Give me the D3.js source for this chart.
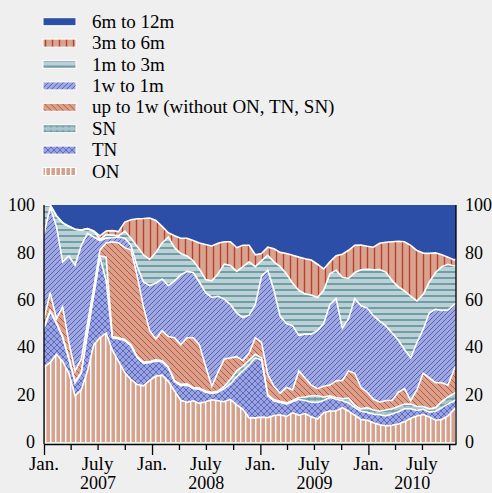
<!DOCTYPE html>
<html>
<head>
<meta charset="utf-8">
<script src="https://cdn.jsdelivr.net/npm/d3@7"></script>
<style>
  html, body { margin: 0; padding: 0; background: #efefef; }
  svg { display: block; font-family: "Liberation Serif", "Times New Roman", serif; }
</style>
</head>
<body>
<svg id="chart" width="492" height="493"></svg>
<script>
// sample dates (every three weeks)
const dates = [
  "2007-01-01", "2007-01-22", "2007-02-12", "2007-03-05", "2007-03-26", "2007-04-16", "2007-05-07", "2007-05-28",
  "2007-06-18", "2007-07-09", "2007-07-30", "2007-08-20", "2007-09-10", "2007-10-01", "2007-10-22", "2007-11-12",
  "2007-12-03", "2007-12-24", "2008-01-14", "2008-02-04", "2008-02-25", "2008-03-17", "2008-04-07", "2008-04-28",
  "2008-05-19", "2008-06-09", "2008-06-30", "2008-07-21", "2008-08-11", "2008-09-01", "2008-09-22", "2008-10-13",
  "2008-11-03", "2008-11-24", "2008-12-15", "2009-01-05", "2009-01-26", "2009-02-16", "2009-03-09", "2009-03-30",
  "2009-04-20", "2009-05-11", "2009-06-01", "2009-06-22", "2009-07-13", "2009-08-03", "2009-08-24", "2009-09-14",
  "2009-10-05", "2009-10-26", "2009-11-16", "2009-12-07", "2009-12-28", "2010-01-18", "2010-02-08", "2010-03-01",
  "2010-03-22", "2010-04-12", "2010-05-03", "2010-05-24", "2010-06-14", "2010-07-05", "2010-07-26", "2010-08-16",
  "2010-09-06", "2010-09-27", "2010-10-18", "2010-10-24"
];

// shares in % of turnover
const onShare = [31.5, 33.6, 37, 34, 29, 19.5, 22, 30, 41, 44, 46, 38.6, 34, 29.3, 26.3, 24.3, 23.7, 26, 27.8, 28.2,
  25.6, 21.5, 17.6, 16.8, 17.4, 16.3, 17, 17.8, 17.4, 17, 18, 15.7, 13.8, 10.2, 10.2, 10.5, 10.3, 11.2, 11.5, 10.8,
  12.3, 11.3, 12, 10.6, 9.7, 12.4, 13.1, 13.1, 14.5, 13, 11.3, 9.5, 9.2, 8.1, 7.3, 6.8, 7.1, 7.6, 8.5, 10,
  11, 11.6, 10.6, 9.2, 9.5, 11, 13.8, 14.5];
const tnShare = [16.5, 21.4, 13, 10, 6, 5.5, 7, 16, 21, 34, 22, 5.4, 9.5, 13.5, 14.2, 11.2, 9.5, 7.5, 6.4, 5.6,
  5.6, 4, 6.2, 7.2, 5.1, 6, 4, 2.7, 3.6, 5.5, 6.5, 11.8, 16.2, 22.3, 25.3, 24, 9.2, 6.1, 5.2, 5.2,
  4.7, 6.7, 5.5, 6.2, 7, 5.1, 5.7, 4.9, 2.9, 3.5, 3.2, 3.5, 3.3, 3.6, 4.2, 4.2, 4.7, 5.2, 5.5, 4,
  2.3, 2.2, 2, 3.8, 5, 5, 3.6, 3.5];
const snShare = [0.5, 0.5, 0.5, 0.5, 0.5, 0.5, 0.5, 0.5, 0.5, 0.5, 10, 0.5, 0.5, 0.5, 0.5, 0.5, 0.5, 0.5, 0.5, 0.5,
  0.5, 0.5, 0.5, 0.5, 0.5, 0.5, 0.5, 0.5, 0.5, 1, 2, 2.5, 2, 2, 1.5, 1, 0.5, 0.5, 0.5, 0.5,
  0.5, 0.8, 1.5, 2.7, 2.8, 1.5, 0.7, 0.8, 0.8, 2, 1, 1, 2, 1.8, 1.5, 2.5, 2.2, 2.2, 2, 2,
  1.7, 1.2, 1.4, 1.5, 2.5, 3, 3.1, 3];
const upTo1wShare = [3.5, 7.5, 1.5, 12.5, 6.5, 4.5, 5.5, 3.5, 2.5, 2.5, 6, 40, 40, 38.7, 40, 34, 23.3, 13, 8.8, 12.7,
  12.8, 18, 16.7, 19.5, 21, 18.2, 10.5, 2.5, 8, 11.5, 9, 6, 2.3, 3, 7, 6.5, 8.5, 5.7, 3.3, 6.5,
  4.5, 11.2, 8, 4.5, 3, 4.5, 4.5, 7, 7.8, 11.5, 13.5, 9, 6.5, 4.5, 3.8, 4, 3.5, 6, 6.5, 1.5,
  7, 14, 13, 10.5, 8, 5, 10.3, 11];
const w1to1mShare = [36, 36, 39, 19, 36.5, 44.6, 48, 38, 21.5, 4, 2, 1.7, 2.5, 4, 2, 4, 10.5, 19, 23.5, 21.8,
  21.5, 24, 29.5, 28, 27.5, 26.5, 31, 37.5, 32, 25.3, 22.5, 18.5, 18.2, 16, 14, 28, 44, 40.5, 32.5, 27,
  27, 15, 18.5, 21.5, 24.5, 26.5, 34, 34.7, 22, 22, 31.5, 34.5, 35.5, 35.3, 34.2, 31.5, 28.5, 22, 16.5, 18,
  20, 18.5, 27.5, 31, 30.5, 31.7, 27.2, 26.5];
const m1to3mShare = [12, 1, 4.5, 16.5, 12.5, 15.2, 6.4, 2, 2.5, 0.5, 1.5, 1.1, 0.5, 3, 3, 8.5, 11.5, 11, 13, 15.2,
  20.5, 14, 9, 6.5, 5, 5.5, 5.5, 7, 9.5, 14.7, 16.5, 17.5, 21.5, 22.5, 16, 6.5, 6.3, 12, 21, 21,
  18, 19, 17, 16.5, 14, 14, 13, 12, 21.5, 17, 11, 15.2, 16.4, 19.4, 21.8, 22.7, 22.2, 22.5, 24.8, 26,
  17.5, 14.8, 13, 15.5, 18.5, 19.3, 16.3, 16];
const m3to6mShare = [0, 0, 0, 0, 0, 0, 0, 0, 0, 1.5, 1.5, 1.9, 1.8, 3.8, 7.8, 11.7, 15.3, 17.5, 13.5, 7,
  1.8, 5, 6.5, 7.5, 8.5, 11, 14.8, 14.7, 12.9, 9.5, 10, 10, 9, 7, 5, 3, 3.4, 5.5, 6, 8.5,
  11.8, 14, 14.8, 14.8, 14, 9, 5, 6.1, 9.7, 11.9, 11.5, 10.4, 9.7, 9.5, 11.1, 12.6, 16.3, 19.2, 20.7, 21.5,
  21.3, 17.4, 12.1, 8.3, 5, 3, 2.5, 2.8];
const m6to12mShare = [0, 0, 4.5, 7.5, 9, 10.2, 10.6, 10, 11, 13, 11, 10.8, 11.2, 7.2, 6.2, 5.8, 5.7, 5.5, 6.5, 9,
  11.7, 13, 14, 14, 15, 16, 16.7, 17.3, 16.1, 15.5, 15.5, 18, 17, 17, 21, 20.5, 17.8, 18.5, 20, 20.5,
  21.2, 22, 22.7, 23.2, 25, 27, 24, 21.4, 20.8, 19.1, 17, 16.9, 17.4, 17.8, 16.1, 15.7, 15.5, 15.3, 15.5, 17,
  19.2, 20.3, 20.4, 20.2, 21, 22, 23.2, 22.7];

const yTicks = [0, 20, 40, 60, 80, 100];

// series, bottom to top
const keys = ["on", "tn", "sn", "up1w", "w1m", "m1m3", "m3m6", "m6m12"];
const labels = {
  on: "ON", tn: "TN", sn: "SN", up1w: "up to 1w (without ON, TN, SN)",
  w1m: "1w to 1m", m1m3: "1m to 3m", m3m6: "3m to 6m", m6m12: "6m to 12m"
};
const fills = {
  on: "url(#p-on)", tn: "url(#p-tn)", sn: "url(#p-sn)", up1w: "url(#p-up)",
  w1m: "url(#p-w1m)", m1m3: "url(#p-m13)", m3m6: "url(#p-m36)", m6m12: "#2c4ea7"
};

const parse = d3.timeParse("%Y-%m-%d");
const rows = dates.map((d, i) => ({
  date: parse(d),
  on: onShare[i], tn: tnShare[i], sn: snShare[i], up1w: upTo1wShare[i],
  w1m: w1to1mShare[i], m1m3: m1to3mShare[i], m3m6: m3to6mShare[i], m6m12: m6to12mShare[i]
}));

const svg = d3.select("#chart");
const plotLeft = 44, plotRight = 456, plotTop = 205, plotBottom = 442, axisY = 444;

const x = d3.scaleTime().domain([rows[0].date, rows[rows.length - 1].date]).range([plotLeft, plotRight]);
const y = d3.scaleLinear().domain([0, 100]).range([plotBottom, plotTop]);

// patterns
const defs = svg.append("defs");
function pattern(id, w, h, base, draw) {
  const p = defs.append("pattern").attr("id", id).attr("patternUnits", "userSpaceOnUse")
    .attr("width", w).attr("height", h);
  p.append("rect").attr("width", w).attr("height", h).attr("fill", base);
  draw(p);
}
pattern("p-on", 5, 5, "#d7a28d", p => p.append("rect").attr("width", 1.4).attr("height", 5).attr("fill", "#fff"));
pattern("p-tn", 6, 6, "#9ba4dc", p => p.append("path").attr("d", "M0,0L6,6M6,0L0,6")
  .attr("stroke", "#3d50bd").attr("stroke-width", 0.7));
pattern("p-sn", 6, 6, "#abc5ca", p => {
  p.append("path").attr("d", "M0,3H6").attr("stroke", "#5d919d").attr("stroke-width", 1.2);
  p.append("path").attr("d", "M3,1V5").attr("stroke", "#5d919d").attr("stroke-width", 0.8);
});
pattern("p-up", 6, 6, "#d8a18b", p => p.append("path").attr("d", "M0,0L6,6M-1,5L1,7M5,-1L7,1")
  .attr("stroke", "#c23a2a").attr("stroke-width", 0.8));
pattern("p-w1m", 5, 5, "#a0a8dd", p => p.append("path").attr("d", "M0,5L5,0M-1,1L1,-1M4,6L6,4")
  .attr("stroke", "#3e51bb").attr("stroke-width", 0.8));
pattern("p-m13", 6, 6, "#bdd0d4", p => p.append("path").attr("d", "M0,2H6")
  .attr("stroke", "#6d9ea9").attr("stroke-width", 2));
pattern("p-m36", 7, 7, "#d9a48f", p => p.append("path").attr("d", "M3.5,0V7")
  .attr("stroke", "#b8402f").attr("stroke-width", 1.4));

defs.append("clipPath").attr("id", "plot-clip")
  .append("rect").attr("x", plotLeft).attr("y", plotTop)
  .attr("width", plotRight - plotLeft).attr("height", plotBottom - plotTop);

const series = d3.stack().keys(keys)(rows);

const area = d3.area()
  .x(d => x(d.data.date))
  .y0(d => y(d[0]))
  .y1(d => y(d[1]));

const topLine = d3.line()
  .x(d => x(d.data.date))
  .y(d => y(d[1]));

const plot = svg.append("g").attr("clip-path", "url(#plot-clip)");
plot.selectAll("path.area")
  .data(series)
  .join("path")
  .attr("class", "area")
  .attr("d", area)
  .attr("fill", d => fills[d.key]);

// white borders between the layers
plot.selectAll("path.edge")
  .data(series.slice(0, -1))
  .join("path")
  .attr("class", "edge")
  .attr("d", topLine)
  .attr("fill", "none")
  .attr("stroke", "#fff")
  .attr("stroke-width", 1.6);

// vertical axis lines
svg.append("line").attr("x1", plotLeft).attr("x2", plotLeft).attr("y1", plotTop).attr("y2", axisY)
  .attr("stroke", "#000").attr("stroke-width", 1.3);
svg.append("line").attr("x1", plotRight).attr("x2", plotRight).attr("y1", plotTop).attr("y2", axisY)
  .attr("stroke", "#000").attr("stroke-width", 1.3);

// y labels on both sides
const yLeft = svg.append("g").attr("transform", `translate(${plotLeft},0)`)
  .call(d3.axisLeft(y).tickValues(yTicks).tickSize(0).tickPadding(9));
const yRight = svg.append("g").attr("transform", `translate(${plotRight},0)`)
  .call(d3.axisRight(y).tickValues(yTicks).tickSize(0).tickPadding(9));
[yLeft, yRight].forEach(g => {
  g.attr("font-family", null).attr("font-size", 18);
  g.select(".domain").remove();
  g.selectAll("text").attr("fill", "#000");
});

// x axis: quarterly ticks, longer at January
const [d0, d1] = x.domain();
const tickDates = d3.timeMonth.every(3).range(d0, d1);
const xAxis = svg.append("g").attr("transform", `translate(0,${axisY})`)
  .call(d3.axisBottom(x).tickValues(tickDates).tickSize(6).tickSizeOuter(0).tickFormat(""));
xAxis.select(".domain").attr("stroke", "#000").attr("stroke-width", 1.3);
xAxis.selectAll(".tick line")
  .attr("stroke", "#000").attr("stroke-width", 1.3)
  .attr("y2", d => d.getMonth() === 0 ? 11 : 6);

svg.append("g")
  .selectAll("text")
  .data(tickDates.filter(d => d.getMonth() === 0 || d.getMonth() === 6))
  .join("text")
  .attr("x", d => x(d))
  .attr("y", 470)
  .attr("text-anchor", "middle")
  .attr("font-size", 19)
  .text(d => d.getMonth() === 0 ? "Jan." : "July");

const years = d3.timeYear.range(d3.timeYear.floor(d0), d1);
svg.append("g")
  .selectAll("text")
  .data(years)
  .join("text")
  .attr("x", d => {
    const a = d < d0 ? d0 : d;
    const next = d3.timeYear.offset(d, 1);
    const b = next > d1 ? d1 : next;
    return (x(a) + x(b)) / 2;
  })
  .attr("y", 489)
  .attr("text-anchor", "middle")
  .attr("font-size", 18)
  .text(d => d.getFullYear());

// legend, top of stack first
const legend = svg.append("g")
  .selectAll("g")
  .data(keys.slice().reverse())
  .join("g")
  .attr("transform", (d, i) => `translate(0,${21.7 + i * 21.4})`);
legend.append("rect")
  .attr("x", 43).attr("y", -4).attr("width", 33).attr("height", 8)
  .attr("fill", d => fills[d])
  .attr("stroke", "#fff").attr("stroke-width", 1);
legend.append("text")
  .attr("x", 92).attr("y", 6)
  .attr("font-size", 19)
  .text(d => labels[d]);
</script>
</body>
</html>
